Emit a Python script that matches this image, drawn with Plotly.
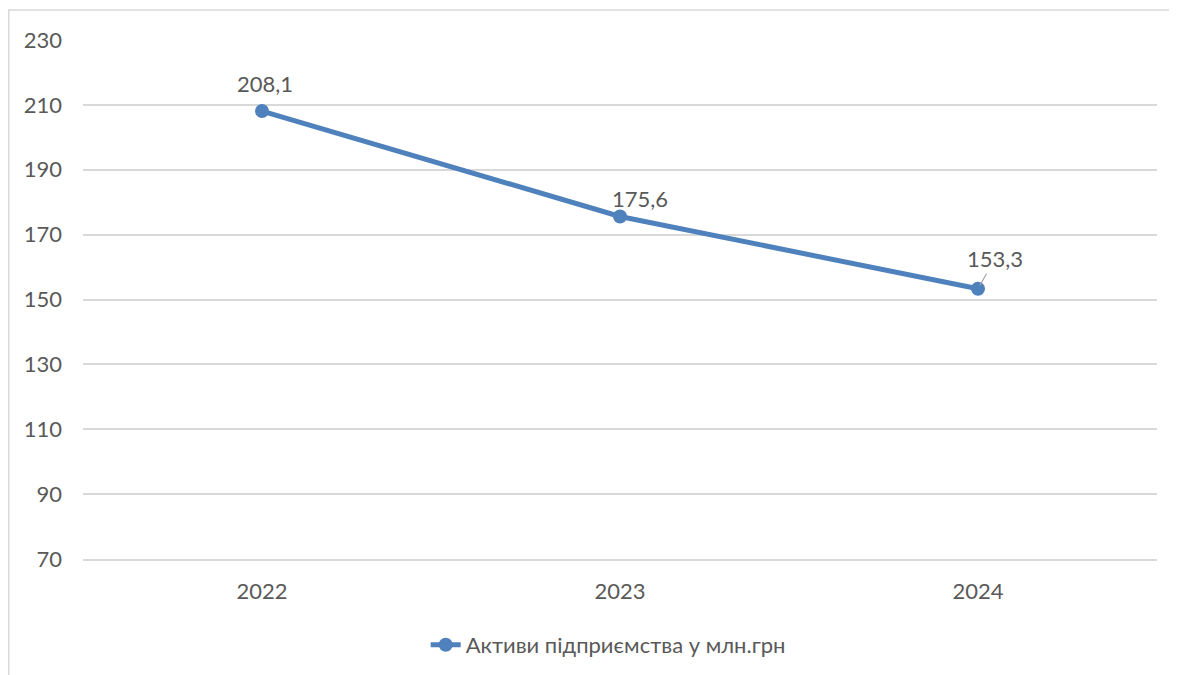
import plotly.graph_objects as go

years = ["2022", "2023", "2024"]
assets = [208.1, 175.6, 153.3]
series_name = "Активи підприємства у млн.грн"
y_ticks = [70, 90, 110, 130, 150, 170, 190, 210, 230]

BLUE = "#4F81BD"
TEXT = "#595959"
GRID = "#D9D9D9"
FONT = "Lato"
FS = 22

fig = go.Figure()
fig.add_trace(go.Scatter(
    x=years, y=assets, mode="lines+markers", name=series_name,
    line=dict(color=BLUE, width=5),
    marker=dict(color=BLUE, size=14),
))

def fmt(v):
    return f"{v:.1f}".replace(".", ",")

# data labels (x given as category index)
offsets = [(3, 28, False), (20, 18, False), (17, 30, True)]
for i, (v, (dx, dy, arrow)) in enumerate(zip(assets, offsets)):
    if arrow:
        fig.add_annotation(x=i, y=v, xref="x", yref="y", text=fmt(v),
                           showarrow=True, ax=dx, ay=-dy, arrowhead=0,
                           arrowwidth=1.2, arrowcolor="#A6A6A6", standoff=4,
                           font=dict(family=FONT, size=FS, color=TEXT),
                           yanchor="middle")
    else:
        fig.add_annotation(x=i, y=v, xref="x", yref="y", text=fmt(v),
                           showarrow=False, xshift=dx, yshift=dy,
                           font=dict(family=FONT, size=FS, color=TEXT))

# page has an 8px body margin: figure coords = screen coords - 8
L, T, W, H = 75, 32, 1074, 519
R = 1177 - L - W
B = 675 - T - H

# outer chart border (like Excel chart area)
fig.add_shape(type="rect", xref="paper", yref="paper",
              x0=(0.8 - L) / W, x1=(1200 - L) / W,
              y0=(H + T - 700) / H, y1=(H + T - 2) / H,
              line=dict(color="#D9D9D9", width=1.5), fillcolor="rgba(0,0,0,0)",
              layer="below")

fig.update_layout(
    width=1177, height=675,
    margin=dict(l=L, r=R, t=T, b=B, autoexpand=False),
    paper_bgcolor="white", plot_bgcolor="white",
    font=dict(family=FONT, size=FS, color=TEXT),
    showlegend=True,
    legend=dict(orientation="h", x=0.489, xanchor="center",
                y=(551 - 637) / H, yanchor="middle",
                font=dict(family=FONT, size=FS, color=TEXT)),
    xaxis=dict(type="category", range=[-0.5, 2.5], showgrid=False,
               showline=True, linecolor=GRID, linewidth=1.5,
               ticks="", ticklabelstandoff=12, zeroline=False, automargin=False),
    yaxis=dict(range=[70, 230], tickvals=y_ticks, showgrid=True,
               gridcolor=GRID, gridwidth=1.5, zeroline=False, showline=False,
               ticks="", ticklabelstandoff=20, automargin=False),
)

fig.write_html("out.html")
